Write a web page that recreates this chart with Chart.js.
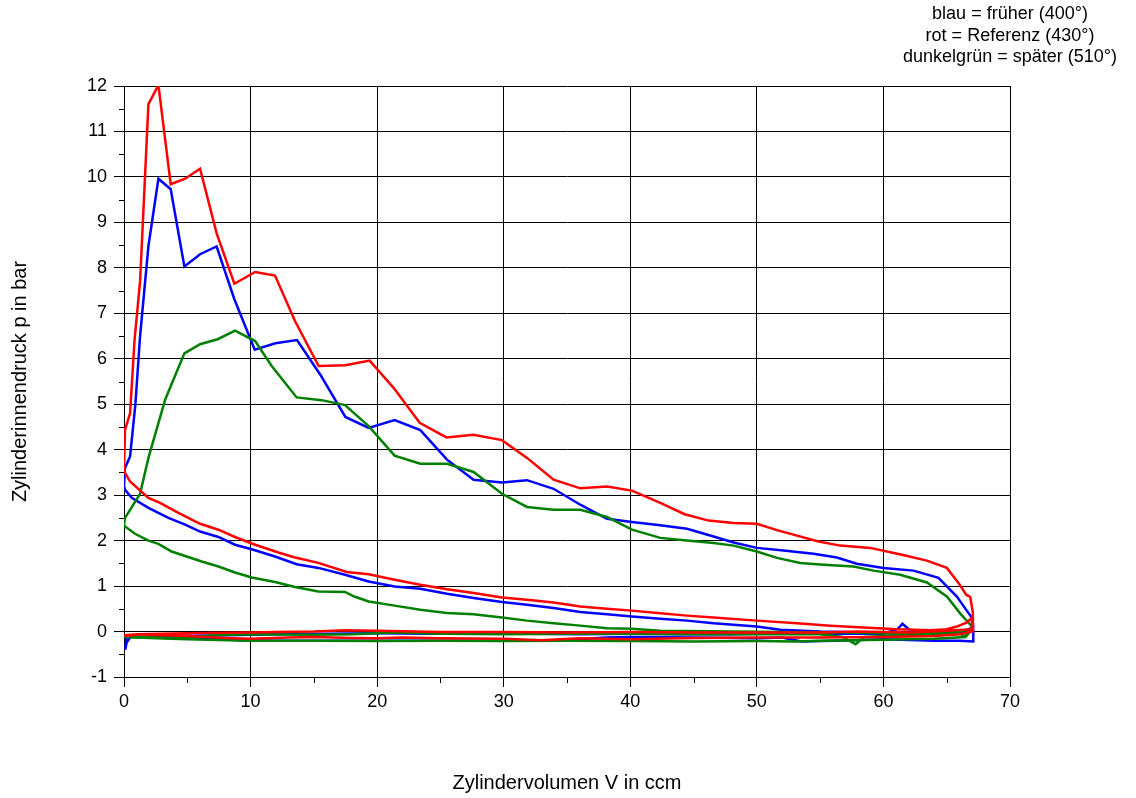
<!DOCTYPE html>
<html lang="de">
<head>
<meta charset="utf-8">
<title>p-V-Diagramm</title>
<script src="https://cdn.jsdelivr.net/npm/chart.js@4.4.1/dist/chart.umd.min.js"></script>
<style>
  html, body { margin: 0; padding: 0; background: #fff; }
  #wrap { position: relative; width: 1136px; height: 798px; }
  canvas { display: block; }
  #note {
    position: absolute; left: 860px; width: 300px; top: 3px;
    text-align: center; font: 18px Arial, "Liberation Sans", sans-serif;
    line-height: 21.5px; color: #000;
  }
</style>
</head>
<body>
<div id="wrap">
  <canvas id="pv" width="1136" height="798"></canvas>
  <div id="note">blau = früher (400°)<br>rot = Referenz (430°)<br>dunkelgrün = später (510°)</div>
</div>
<script>
// Axis settings
const xTicks = [0, 10, 20, 30, 40, 50, 60, 70];
const yTicks = [-1, 0, 1, 2, 3, 4, 5, 6, 7, 8, 9, 10, 11, 12];
const xTitle = 'Zylindervolumen V in ccm';
const yTitle = 'Zylinderinnendruck p in bar';

// Measured cycles: [V in ccm, p in bar]
// rot = Referenz (430°)
const redCompression = [[67.07,0.33],[66.6,0.2],[65.8,0.11],[65.0,0.05],[63.7,0.03],[61.06,0.05],[58.43,0.09],[55.8,0.13],[53.17,0.18],[50,0.24],[46.58,0.31],[44.48,0.35],[42.37,0.40],[40.13,0.46],[38.16,0.50],[36.05,0.55],[33.94,0.64],[31.84,0.70],[29.86,0.75],[27.62,0.85],[25.52,0.93],[23.41,1.03],[21.38,1.14],[19.33,1.26],[17.6,1.31],[15.36,1.51],[13.51,1.63],[12.2,1.74],[10.36,1.91],[8.77,2.08],[7.46,2.24],[6.01,2.37],[4.30,2.61],[2.85,2.83],[1.93,2.94],[0.48,3.30],[0.08,3.49],[0,3.6]];
const redExpansion = [[0.08,4.44],[0.48,4.8],[0.83,6.4],[1.27,7.7],[1.93,11.6],[2.72,12.02],[3.69,9.84],[4.83,9.96],[6.01,10.18],[7.32,8.76],[8.72,7.65],[10.36,7.91],[11.93,7.83],[13.51,6.83],[15.38,5.84],[17.49,5.86],[19.41,5.96],[21.3,5.36],[23.36,4.59],[25.47,4.27],[27.62,4.33],[29.86,4.21],[31.84,3.82],[33.94,3.34],[36.05,3.15],[38.16,3.19],[40.13,3.10],[42.37,2.83],[44.3,2.58],[46.19,2.44],[48.16,2.39],[50.0,2.37],[51.59,2.23],[53.03,2.12],[54.87,1.98],[56.59,1.89],[58.96,1.84],[61.46,1.69],[63.43,1.56],[65.01,1.40],[65.93,1.07],[66.54,0.81],[66.86,0.76],[67.07,0.41],[66.99,0.22],[67.0,0.05]];
const redExhaust = [[65,0.02],[62,-0.02],[58,0.0],[55,-0.02],[50,-0.02],[45,-0.02],[40,-0.01],[35,-0.02],[30,-0.01],[25,-0.01],[20,0.02],[17.5,0.03],[15,0.0],[12,-0.01],[10,-0.02],[6,-0.03],[3,-0.05],[1,-0.06],[0.3,-0.1],[0,-0.08]];
const redIntake = [[1,-0.06],[3,-0.08],[5,-0.1],[8,-0.14],[10,-0.16],[13,-0.13],[15,-0.12],[18,-0.14],[20,-0.15],[22,-0.13],[25,-0.15],[30,-0.16],[33,-0.19],[36,-0.15],[40,-0.17],[45,-0.14],[50,-0.13],[55,-0.13],[60,-0.12],[64,-0.1],[66,-0.06],[67.07,0.0],[67.07,0.33]];

// blau = früher (400°)
const blueCompression = [[67.1,0.05],[66,0.0],[64,-0.02],[62,-0.02],[58.7,-0.02],[55,0.0],[51.85,0.04],[50,0.11],[46.58,0.18],[44.48,0.24],[42.37,0.28],[40.13,0.33],[38.16,0.38],[36.05,0.43],[33.94,0.52],[31.84,0.59],[29.86,0.65],[27.62,0.74],[25.52,0.83],[23.41,0.94],[21.38,0.99],[19.33,1.10],[17.46,1.25],[15.36,1.40],[13.64,1.48],[11.93,1.65],[10.09,1.81],[8.77,1.91],[7.46,2.08],[6.01,2.20],[4.83,2.35],[3.51,2.50],[1.93,2.72],[0.61,2.94],[0.08,3.12],[0,3.2]];
const blueExpansion = [[0.08,3.6],[0.48,3.85],[0.9,5.0],[1.27,6.5],[1.93,8.48],[2.72,9.96],[3.69,9.73],[4.77,8.03],[6.01,8.30],[7.32,8.47],[8.72,7.31],[10.33,6.20],[11.96,6.34],[13.67,6.41],[15.51,5.65],[17.49,4.72],[19.33,4.48],[21.38,4.65],[23.41,4.43],[25.52,3.78],[27.62,3.34],[29.86,3.28],[31.84,3.33],[33.94,3.14],[36.05,2.79],[38.16,2.48],[40.13,2.41],[42.37,2.34],[44.48,2.26],[46.58,2.09],[48.16,1.96],[50,1.84],[52.1,1.78],[54.48,1.71],[56.32,1.63],[57.9,1.49],[60.0,1.40],[62.38,1.34],[64.35,1.18],[65.8,0.77],[66.99,0.30],[67.1,0.1]];
const blueExhaust = [[66,-0.05],[64,-0.06],[62.06,0.04],[61.5,0.17],[61.1,0.05],[60,-0.05],[56,-0.05],[52,-0.04],[48,-0.06],[44,-0.06],[40,-0.05],[36,-0.06],[32,-0.05],[28,-0.05],[24,-0.05],[20,-0.04],[16,-0.05],[12,-0.06],[8,-0.08],[4,-0.1],[2,-0.12],[0.5,-0.12],[0.2,-0.25],[0.1,-0.4],[0.2,-0.1]];
const blueIntake = [[1,-0.12],[3,-0.12],[6,-0.13],[9,-0.19],[12,-0.2],[16,-0.2],[20,-0.2],[25,-0.2],[30,-0.2],[35,-0.19],[38,-0.13],[40,-0.12],[45,-0.13],[50,-0.15],[52,-0.13],[53.5,-0.22],[56,-0.2],[60,-0.17],[64,-0.2],[66,-0.2],[67.1,-0.22],[67.1,0.05]];

// dunkelgrün = später (510°)
const greenCompression = [[67,0.05],[66,0.0],[64,-0.03],[62,-0.03],[60,-0.04],[57,-0.02],[55,-0.02],[52,-0.01],[48,0.0],[44.48,0.01],[42.37,0.02],[40.13,0.06],[38.16,0.07],[36.05,0.13],[33.94,0.18],[31.84,0.24],[29.86,0.31],[27.62,0.38],[25.52,0.41],[23.41,0.48],[21.38,0.57],[19.33,0.66],[18.2,0.77],[17.46,0.87],[15.36,0.88],[13.51,0.98],[11.93,1.09],[10.09,1.19],[8.77,1.30],[7.46,1.43],[6.14,1.54],[3.77,1.76],[2.72,1.93],[1.93,2.0],[0.87,2.15],[0.08,2.31],[0,2.35]];
const greenExpansion = [[0.08,2.5],[1.27,3.03],[1.93,3.82],[3.25,5.1],[4.77,6.12],[6.01,6.32],[7.4,6.43],[8.77,6.62],[10.36,6.39],[11.67,5.84],[13.64,5.15],[15.62,5.09],[17.46,4.98],[19.33,4.52],[21.38,3.87],[23.41,3.69],[25.52,3.69],[27.62,3.51],[29.86,3.03],[31.84,2.74],[33.94,2.68],[36.05,2.68],[38.16,2.52],[40.13,2.24],[42.37,2.06],[44.48,2.0],[46.58,1.95],[48.16,1.89],[50,1.76],[51.59,1.62],[53.43,1.51],[55.27,1.47],[57.64,1.43],[59.22,1.34],[61.33,1.25],[63.43,1.08],[65.01,0.77],[66.06,0.40],[66.99,0.11]];
const greenExhaust = [[66.5,-0.1],[66,-0.05],[64,-0.08],[62,-0.08],[60,-0.1],[58.5,-0.12],[57.8,-0.28],[56.8,-0.12],[55,-0.06],[50,-0.06],[45,-0.06],[40,-0.05],[35,-0.05],[30,-0.06],[25,-0.05],[21.5,-0.02],[18,-0.06],[15,-0.07],[10,-0.06],[7,-0.08],[4.5,-0.15],[2,-0.12],[0.5,-0.1],[0,-0.12]];
const greenIntake = [[2,-0.14],[5,-0.17],[10,-0.2],[15,-0.2],[20,-0.21],[25,-0.2],[30,-0.21],[35,-0.2],[40,-0.21],[45,-0.22],[50,-0.21],[53,-0.22],[55,-0.2],[60,-0.18],[64,-0.16],[66.5,-0.12],[67,0.05]];

const FONT = 'Arial, "Liberation Sans", sans-serif';
Chart.defaults.font.family = FONT;
Chart.defaults.color = '#000';

// join the four strokes of one working cycle into a single closed trace
function cycle(...parts) {
  return parts.flat().map(([x, y]) => ({ x, y }));
}

function trace(label, color, points) {
  return {
    label, data: points, borderColor: color, backgroundColor: color,
    borderWidth: 2.5, pointRadius: 0, showLine: true, tension: 0, fill: false
  };
}

// short half-step ticks between the labelled ones
const minorTicks = {
  id: 'minorTicks',
  afterDraw(chart) {
    const { ctx, scales: { x, y }, chartArea } = chart;
    ctx.save();
    ctx.strokeStyle = '#000';
    ctx.lineWidth = 1;
    ctx.beginPath();
    for (let i = 0; i < yTicks.length - 1; i++) {
      const py = Math.round(y.getPixelForValue(yTicks[i] + 0.5)) + 0.5;
      ctx.moveTo(chartArea.left - 5, py);
      ctx.lineTo(chartArea.left, py);
    }
    for (let i = 0; i < xTicks.length - 1; i++) {
      const px = Math.round(x.getPixelForValue(xTicks[i] + 5)) + 0.5;
      ctx.moveTo(px, chartArea.bottom);
      ctx.lineTo(px, chartArea.bottom + 6);
    }
    ctx.stroke();
    ctx.restore();
  }
};

new Chart(document.getElementById('pv'), {
  type: 'scatter',
  data: {
    datasets: [
      trace('rot = Referenz (430°)', '#ff0000', cycle(redCompression, redExpansion, redExhaust, redIntake)),
      trace('dunkelgrün = später (510°)', '#008000', cycle(greenCompression, greenExpansion, greenExhaust, greenIntake)),
      trace('blau = früher (400°)', '#0000ff', cycle(blueCompression, blueExpansion, blueExhaust, blueIntake))
    ]
  },
  options: {
    responsive: false,
    animation: false,
    devicePixelRatio: 1,
    layout: { padding: { top: 86, right: 126, left: 0, bottom: 0 } },
    plugins: { legend: { display: false }, tooltip: { enabled: false }, title: { display: false } },
    scales: {
      x: {
        type: 'linear', min: xTicks[0], max: xTicks[xTicks.length - 1],
        afterBuildTicks: s => { s.ticks = xTicks.map(v => ({ value: v })); },
        afterFit: s => { s.height = 121; },
        ticks: { font: { size: 18 }, color: '#000', padding: 4, maxRotation: 0 },
        grid: { color: '#000', lineWidth: 1, tickLength: 10, tickColor: '#000' },
        border: { color: '#000', width: 1 },
        title: { display: true, text: xTitle, font: { size: 20 }, color: '#000', padding: { top: 0, bottom: 3 } }
      },
      y: {
        type: 'linear', min: yTicks[0], max: yTicks[yTicks.length - 1],
        afterBuildTicks: s => { s.ticks = yTicks.map(v => ({ value: v })); },
        afterFit: s => { s.width = 124; },
        ticks: { font: { size: 18 }, color: '#000', padding: 7 },
        grid: { color: '#000', lineWidth: 1, tickLength: 10, tickColor: '#000' },
        border: { color: '#000', width: 1 },
        title: { display: true, text: yTitle, font: { size: 20 }, color: '#000', padding: { top: 8, bottom: 0 } }
      }
    }
  },
  plugins: [minorTicks]
});
</script>
</body>
</html>
